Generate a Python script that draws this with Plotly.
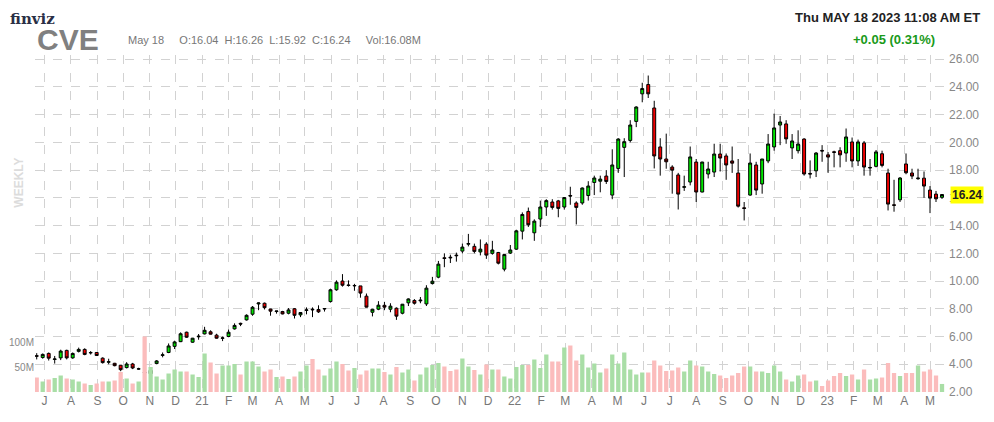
import plotly.graph_objects as go
import pandas as pd

start = "2020-06-22"
opens = [4.62,4.49,4.78,4.35,4.46,5.0,4.46,4.93,5.07,4.82,4.85,4.44,4.15,4.07,3.93,3.76,4.02,3.65,3.42,3.32,
         4.05,4.64,4.85,5.29,5.63,6.31,5.59,5.98,6.19,6.34,6.1,5.87,6.0,6.55,6.95,7.2,7.61,8.35,8.4,7.98,
         7.8,7.8,7.68,8.0,7.56,7.88,7.97,7.95,7.98,8.52,9.37,10.0,9.72,9.65,9.65,8.91,7.75,7.97,8.25,7.97,
         8.04,7.68,8.43,8.6,8.57,8.35,9.82,10.28,11.68,11.72,11.87,12.16,12.66,12.5,12.1,12.66,12.0,12.06,10.86,12.02,
         12.3,13.6,15.02,13.48,14.47,15.34,15.7,15.78,15.34,16.17,15.63,15.63,16.17,17.11,17.2,17.57,16.2,18.12,19.64,20.14,
         21.51,23.5,24.17,22.48,19.67,18.8,18.22,17.65,16.76,17.14,18.58,16.42,17.72,17.86,19.16,19.02,18.66,17.79,15.28,16.2,
         18.37,17.0,18.66,19.67,21.25,21.33,19.6,19.4,20.24,17.76,17.95,19.42,19.1,19.32,19.4,19.23,20.03,18.66,19.96,18.15,
         18.27,19.18,17.79,15.5,15.86,18.44,17.79,17.38,17.42,16.56,16.27,16.04]
highs = [4.8,4.78,4.85,4.6,5.05,5.05,4.85,5.2,5.15,4.95,4.88,4.5,4.4,4.1,3.95,4.15,4.1,3.75,3.6,3.6,
         4.3,4.85,5.5,5.7,6.3,6.35,5.9,6.18,6.7,6.45,6.2,6.0,6.5,6.95,7.0,7.6,8.2,8.45,8.45,8.0,
         7.85,7.85,8.05,8.05,7.75,8.1,8.1,8.25,8.05,9.45,10.05,10.5,10.05,9.8,9.65,9.1,8.0,8.55,8.5,8.4,
         8.1,8.35,8.75,8.7,8.85,9.7,10.3,11.45,12.0,11.9,12.05,12.7,13.4,12.7,13.0,12.8,12.9,12.1,11.95,12.6,
         13.7,14.95,15.3,14.45,15.8,15.9,15.9,15.85,16.05,16.8,15.75,16.75,17.2,17.6,17.6,18.0,19.5,20.3,20.3,21.6,
         22.6,24.3,24.82,23.0,20.3,20.63,18.35,17.8,17.6,19.7,18.8,18.6,18.6,19.9,19.9,19.2,19.7,18.8,15.7,19.2,
         18.6,18.8,20.6,22.07,21.9,21.6,20.6,20.87,20.3,18.7,19.3,19.8,19.3,19.4,19.65,21.0,20.35,20.2,20.1,18.8,
         19.45,19.4,18.1,17.3,17.5,19.2,18.1,18.1,17.9,16.85,16.5,16.26]
lows = [4.35,4.4,4.27,4.05,4.3,4.35,4.4,4.85,4.65,4.7,4.6,4.05,4.0,3.85,3.5,3.7,3.65,3.6,3.2,3.25,
        4.0,4.5,4.8,5.1,5.6,5.9,5.55,5.77,6.15,6.15,5.85,5.67,5.95,6.5,6.75,7.15,7.5,7.9,7.95,7.5,
        7.65,7.6,7.6,7.3,7.4,7.6,7.4,7.7,7.8,8.45,9.3,9.6,9.6,9.3,8.8,8.1,7.45,7.9,7.9,7.75,
        7.2,7.6,8.2,8.3,8.4,8.2,9.75,10.2,11.0,11.3,11.4,12.0,12.5,12.0,11.85,11.6,11.9,11.2,10.7,11.95,
        12.25,13.0,13.9,12.9,13.9,14.7,15.15,14.6,15.15,15.5,14.08,15.5,15.8,16.2,16.4,17.0,15.9,17.8,17.5,20.0,
        21.1,22.89,23.2,18.12,17.6,18.1,16.3,15.16,16.5,16.9,15.7,16.4,17.4,17.5,17.9,17.3,17.8,15.3,14.37,16.15,
        16.2,16.3,18.5,19.4,19.8,19.9,18.8,19.2,17.6,17.4,17.5,18.6,17.8,18.2,18.2,18.6,18.2,18.3,17.6,17.6,
        18.2,18.2,15.09,15.0,15.7,17.7,17.35,17.3,16.0,14.9,15.7,15.92]
closes = [4.58,4.71,4.44,4.38,4.95,4.46,4.78,5.07,4.71,4.84,4.63,4.12,4.18,3.9,3.61,4.02,3.73,3.67,3.38,3.56,
          4.24,4.68,5.32,5.61,6.2,5.95,5.88,6.02,6.45,6.17,5.88,5.9,6.31,6.8,6.9,7.53,8.11,8.42,8.08,7.83,
          7.84,7.63,7.92,7.53,7.73,7.92,7.93,7.78,8.02,9.37,9.92,9.7,9.68,9.68,9.13,8.12,7.97,8.26,8.12,8.19,
          7.47,8.33,8.71,8.4,8.62,9.49,9.99,11.22,11.63,11.68,11.83,12.45,12.7,12.14,12.3,11.87,12.24,11.29,11.91,12.24,
          13.62,14.8,14.06,14.32,15.34,15.8,15.31,15.24,16.02,16.13,15.31,16.71,16.85,17.43,17.35,17.18,18.37,20.24,20.05,21.25,
          22.55,23.88,23.5,19.02,18.8,18.6,18.0,16.27,16.8,18.95,16.42,18.58,18.08,19.16,18.87,18.37,18.5,15.4,15.24,18.51,
          16.56,18.8,19.88,21.04,21.47,20.25,20.1,19.88,17.72,17.72,19.23,19.38,18.94,19.28,19.1,20.39,18.66,20.03,18.22,18.19,
          19.31,18.34,15.55,15.46,17.43,17.81,17.57,17.42,16.85,15.98,15.93,16.24]
volumes_m = [29,21,25,28,33,27,25,21,17,14,17,21,21,23,40,27,17,21,111,50,
             31,25,37,45,41,41,35,30,77,59,37,53,53,56,35,61,61,51,41,45,
             30,31,26,31,41,53,66,45,33,47,61,56,43,48,35,43,47,47,40,35,
             50,39,45,23,35,49,54,58,51,42,45,67,51,44,35,55,45,45,31,27,
             50,54,54,65,48,75,61,61,89,93,63,75,49,57,39,47,75,57,79,45,
             35,39,39,63,53,42,43,49,41,63,53,51,41,36,33,28,33,38,51,51,
             41,41,38,53,41,25,21,33,35,21,23,12,23,32,38,32,35,25,45,25,
             27,29,58,38,32,38,38,53,41,45,33,16.08]

month_letters = ["J","A","S","O","N","D","21","F","M","A","M","J","J","A","S","O","N","D",
                 "22","F","M","A","M","J","J","A","S","O","N","D","23","F","M","A","M"]

dates = pd.date_range(start, periods=len(closes), freq="7D")
month_ticks = pd.date_range("2020-07-01", periods=len(month_letters), freq="MS")

GREEN_BAR = "#a9dea6"
PINK_BAR = "#fbbcbc"
vol_colors = [GREEN_BAR if c >= o else PINK_BAR for o, c in zip(opens, closes)]

fig = go.Figure()
fig.add_trace(go.Bar(x=dates, y=volumes_m, marker=dict(color=vol_colors, line=dict(width=0)),
                     width=5 * 86400000, yaxis="y2", hoverinfo="skip"))
fig.add_trace(go.Candlestick(x=dates, open=opens, high=highs, low=lows, close=closes,
                             increasing=dict(line=dict(color="black", width=1), fillcolor="#00e600"),
                             decreasing=dict(line=dict(color="black", width=1), fillcolor="#ee0000"),
                             whiskerwidth=0, yaxis="y"))

grid = "#d2d2d2"
fig.update_layout(
    width=978, height=406, margin=dict(l=27, r=38, t=47, b=22, autoexpand=False),
    paper_bgcolor="white", plot_bgcolor="white", showlegend=False,
    font=dict(family="Liberation Sans, Arial, sans-serif"),
    xaxis=dict(range=["2020-06-20", "2023-05-22"], rangeslider=dict(visible=False), automargin=False,
               tickmode="array", tickvals=month_ticks, ticktext=month_letters,
               showgrid=True, gridcolor=grid, griddash="dash", gridwidth=1,
               tickfont=dict(size=12, color="#777"), ticks="", zeroline=False, showline=False),
    yaxis=dict(side="right", range=[2, 26.3], dtick=2, tick0=2, tickformat=".2f", automargin=False,
               showgrid=True, gridcolor=grid, griddash="dash", gridwidth=1,
               tickfont=dict(size=12, color="#888"), ticks="", zeroline=False),
    yaxis2=dict(overlaying="y", side="left", range=[0, 674], tickvals=[50, 100], automargin=False,
                ticktext=["50M", "100M"], showgrid=False, zeroline=False, ticklabelstandoff=0,
                tickfont=dict(size=10, color="#888"), ticks=""),
)

fig.add_annotation(xref="paper", yref="paper", x=-0.03, y=1.139, text="<b>finviz</b>", showarrow=False,
                   xanchor="left", yanchor="top",
                   font=dict(family="DejaVu Serif, serif", size=15, color="#2a2f45"))
fig.add_annotation(xref="paper", yref="paper", x=0.0, y=1.045, text="<b>CVE</b>", showarrow=False,
                   xanchor="left", yanchor="middle", font=dict(size=30, color="#808080"))
fig.add_annotation(xref="paper", yref="paper", x=0.10, y=1.045,
                   text="May 18&nbsp;&nbsp;&nbsp;&nbsp;&nbsp;O:16.04&nbsp;&nbsp;H:16.26&nbsp;&nbsp;L:15.92&nbsp;&nbsp;C:16.24&nbsp;&nbsp;&nbsp;&nbsp;&nbsp;Vol:16.08M",
                   showarrow=False, xanchor="left", yanchor="middle", font=dict(size=11, color="#777"))
fig.add_annotation(xref="paper", yref="paper", x=1.037, y=1.139, text="<b>Thu MAY 18 2023 11:08 AM ET</b>",
                   showarrow=False, xanchor="right", yanchor="top", font=dict(size=13, color="#222"))
fig.add_annotation(xref="paper", yref="paper", x=0.988, y=1.045, text="<b>+0.05 (0.31%)</b>",
                   showarrow=False, xanchor="right", yanchor="middle", font=dict(size=13, color="#1a9a1a"))
fig.add_annotation(xref="paper", yref="paper", x=-0.018, y=0.62, text="<b>WEEKLY</b>", textangle=-90,
                   showarrow=False, xanchor="center", yanchor="middle", font=dict(size=12, color="#dcdcdc"))
fig.add_annotation(xref="paper", yref="y", x=1.002, y=closes[-1], text="<b>%.2f</b>" % closes[-1],
                   showarrow=False, xanchor="left", yanchor="middle", bgcolor="#ffff00",
                   borderpad=1, font=dict(size=12, color="#222"))

fig.write_html("out.html")
